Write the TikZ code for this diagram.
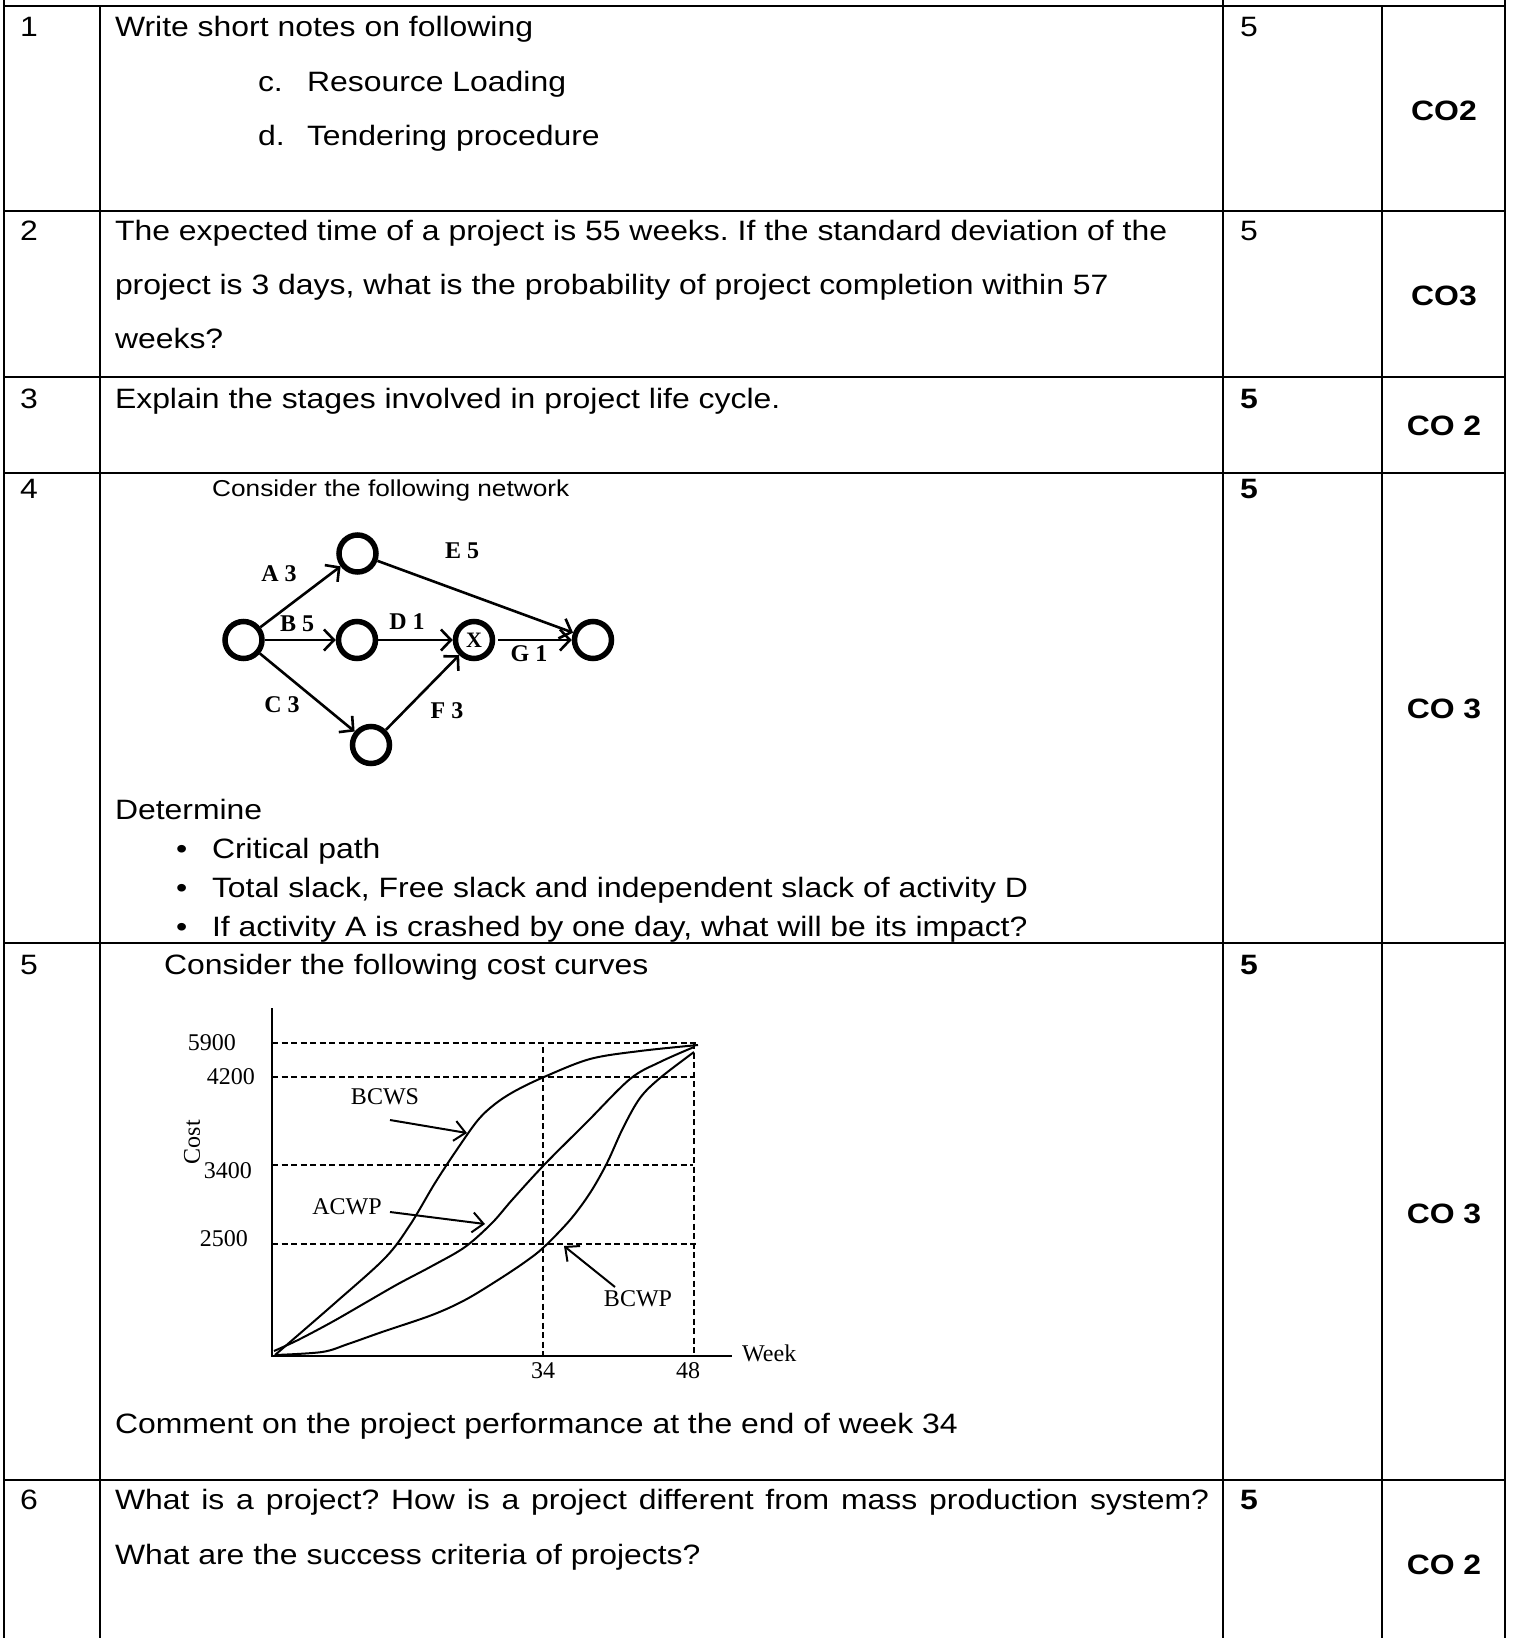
\documentclass[tikz,border=0pt]{standalone}
\usepackage{fontspec}
\setmainfont[FakeStretch=1.14]{Liberation Sans}
\newfontfamily\tnr{Liberation Serif}
\usetikzlibrary{arrows.meta}
\frenchspacing
\begin{document}
\begin{tikzpicture}[x=1pt,y=-1pt,
  grid/.style={line width=2.2pt},
  txt/.style={anchor=base west,inner sep=0pt,outer sep=0pt,font=\fontsize{28}{34}\selectfont},
  btxt/.style={txt,font=\fontsize{28}{34}\selectfont\bfseries},
  cotxt/.style={anchor=base,inner sep=0pt,font=\fontsize{28}{34}\selectfont\bfseries},
  stxt/.style={anchor=base west,inner sep=0pt,font=\fontsize{23}{26}\selectfont},
  ev/.style={circle,draw,line width=5.5pt,minimum size=37pt,inner sep=0pt,font=\tnr\bfseries\fontsize{22}{22}\selectfont},
  act/.style={line width=2.6pt,-{Straight Barb[length=10pt,width=21pt]}},
  alab/.style={inner sep=0pt,font=\tnr\bfseries\fontsize{24}{24}\selectfont},
  ctxt/.style={inner sep=0pt,font=\tnr\fontsize{24}{24}\selectfont},
  dsh/.style={line width=1.8pt,dash pattern=on 6pt off 3.5pt},
  crv/.style={line width=2pt},
  carr/.style={line width=2pt,-{Straight Barb[length=11pt,width=20pt]}}
]
\useasboundingbox (0,0) rectangle (1514,1638);
\fill[white] (0,0) rectangle (1514,1638);

% ---------- table grid ----------
\draw[grid] (4,0) -- (4,1638);
\draw[grid] (100,6) -- (100,1638);
\draw[grid] (1223,0) -- (1223,1638);
\draw[grid] (1382,6) -- (1382,1638);
\draw[grid] (1505,0) -- (1505,1638);
\foreach \yy in {6,211,377,473,943,1480}
  \draw[grid] (4,\yy) -- (1505,\yy);

% ---------- row 1 ----------
\node[txt] (n1num) at (20,36) {1};
\node[txt] (q1a) at (115,36) {Write short notes on following};
\node[txt] (q1c) at (258,91) {c.};
\node[txt] (q1ct) at (307,91) {Resource Loading};
\node[txt] (q1d) at (258,145) {d.};
\node[txt] (q1dt) at (307,145) {Tendering procedure};
\node[txt] (m1) at (1240,36) {5};
\node[cotxt] (co1) at (1444,120) {CO2};

% ---------- row 2 ----------
\node[txt] (n2num) at (20,240) {2};
\node[txt] (q2a) at (115,240) {The expected time of a project is 55 weeks. If the standard deviation of the};
\node[txt] (q2b) at (115,294) {project is 3 days, what is the probability of project completion within 57};
\node[txt] (q2c) at (115,348) {weeks?};
\node[txt] (m2) at (1240,240) {5};
\node[cotxt] (co2) at (1444,305) {CO3};

% ---------- row 3 ----------
\node[txt] (n3num) at (20,408) {3};
\node[txt] (q3a) at (115,408) {Explain the stages involved in project life cycle.};
\node[btxt] (m3) at (1240,408) {5};
\node[cotxt] (co3) at (1444,435) {CO 2};

% ---------- row 4 ----------
\node[txt] (n4num) at (20,498) {4};
\node[stxt] (q4a) at (212,496) {Consider the following network};
\node[btxt] (m4) at (1240,498) {5};
\node[cotxt] (co4) at (1444,718) {CO 3};

\node[ev] (e1) at (243.5,640) {};
\node[ev] (e2) at (357.5,553.5) {};
\node[ev] (e3) at (357,640) {};
\node[ev] (ex) at (474,640) {X};
\node[ev] (e5) at (593,640) {};
\node[ev] (e4) at (371,745) {};

\draw[act] (e1) -- (e2);
\draw[act] (e2) -- (e5);
\draw[act] (e1) -- (e3);
\draw[act] (e3) -- (ex);
\draw[act,shorten <=3pt] (ex) -- (e5);
\draw[act] (e1) -- (e4);
\draw[act] (e4) -- (ex);

\node[alab] (la) at (279,574) {A 3};
\node[alab] (le) at (462,551) {E 5};
\node[alab] (lb) at (297,624) {B 5};
\node[alab] (ld) at (407,622) {D 1};
\node[alab] (lg) at (529,654) {G 1};
\node[alab] (lc) at (282,705) {C 3};
\node[alab] (lf) at (447,711) {F 3};

\node[txt] (det) at (115,819) {Determine};
\node[txt] (b1) at (176,858) {\textbullet};
\node[txt] (t1) at (212,858) {Critical path};
\node[txt] (b2) at (176,897) {\textbullet};
\node[txt] (t2) at (212,897) {Total slack, Free slack and independent slack of activity D};
\node[txt] (b3) at (176,936) {\textbullet};
\node[txt] (t3) at (212,936) {If activity A is crashed by one day, what will be its impact?};

% ---------- row 5 ----------
\node[txt] (n5num) at (20,974) {5};
\node[txt] (q5a) at (164,974) {Consider the following cost curves};
\node[btxt] (m5) at (1240,974) {5};
\node[cotxt] (co5) at (1444,1223) {CO 3};
\node[txt] (q5b) at (115,1433) {Comment on the project performance at the end of week 34};

% chart
\draw[dsh] (272,1043) -- (698,1043);
\draw[dsh] (272,1077) -- (693,1077);
\draw[dsh] (272,1165) -- (693,1165);
\draw[dsh] (272,1244) -- (699,1244);
\draw[dsh] (543,1047) -- (543,1356);
\draw[dsh] (694,1043) -- (694,1356);
\draw[line width=2pt] (272,1008) -- (272,1356) -- (732,1356);

\draw[crv] plot[smooth,tension=0.55] coordinates {(275,1355) (335,1303) (385,1258) (410,1225) (435,1183) (458,1148) (478,1120) (495,1104) (515,1091) (544,1077) (590,1059) (640,1051) (698,1045)};
\draw[crv] plot[smooth,tension=0.55] coordinates {(274,1351) (298,1340) (332,1322) (365,1303) (398,1284) (432,1266) (465,1247) (492,1223) (512,1200) (544,1165) (587,1122) (630,1079) (660,1062) (694,1047)};
\draw[crv] plot[smooth,tension=0.55] coordinates {(275,1355) (322,1352) (348,1344) (382,1332) (432,1315) (465,1300) (498,1280) (525,1262) (544,1247) (570,1220) (590,1193) (607,1163) (623,1128) (640,1098) (660,1078) (694,1052)};

\node[ctxt,anchor=east] (y5900) at (236,1043) {5900};
\node[ctxt,anchor=east] (y4200) at (255,1077) {4200};
\node[ctxt,anchor=east] (y3400) at (252,1171) {3400};
\node[ctxt,anchor=east] (y2500) at (248,1239) {2500};
\node[ctxt,rotate=90] (ycost) at (192,1142) {Cost};
\node[ctxt] (x34) at (543,1371) {34};
\node[ctxt] (x48) at (688,1371) {48};
\node[ctxt,anchor=west] (xweek) at (742,1353) {Week};

\node[ctxt] (lbcws) at (385,1097) {BCWS};
\node[ctxt] (lacwp) at (347,1207) {ACWP};
\node[ctxt] (lbcwp) at (638,1299) {BCWP};
\coordinate (pbcws0) at (390,1120);
\coordinate (pbcws) at (467,1133);
\coordinate (pacwp0) at (390,1212);
\coordinate (pacwp) at (485,1224);
\coordinate (pbcwp0) at (615,1287);
\coordinate (pbcwp) at (564,1246);
\draw[carr] (pbcws0) -- (pbcws);
\draw[carr] (pacwp0) -- (pacwp);
\draw[carr] (pbcwp0) -- (pbcwp);

% ---------- row 6 ----------
\node[txt] (n6num) at (20,1509) {6};
\node[txt] (q6a) at (115,1509) {\makebox[1094pt][s]{What is a project? How is a project different from mass production system?}};
\node[txt] (q6b) at (115,1564) {What are the success criteria of projects?};
\node[btxt] (m6) at (1240,1509) {5};
\node[cotxt] (co6) at (1444,1574) {CO 2};
\end{tikzpicture}
\end{document}
